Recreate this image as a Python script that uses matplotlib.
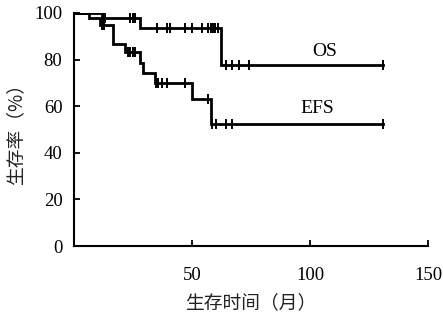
import numpy as np
import matplotlib
matplotlib.use("Agg")
import matplotlib.pyplot as plt

# Kaplan-Meier steps (months, %)
os_time = [0, 12, 28, 62.5]
os_surv = [100, 97.6, 93.4, 77.7]
os_cens = [12.5, 13.2, 24, 25, 26, 35.1, 39.3, 40.7, 47.1, 49.9, 54.1,
           57, 58, 59, 60, 61, 64.6, 66.8, 70, 74.2, 131]

efs_time = [0, 6.5, 11, 16.8, 21.7, 28, 29.5, 34.4, 50, 58]
efs_surv = [100, 97.9, 94.9, 86.8, 83.4, 78.4, 74.1, 69.8, 63, 52.4]
efs_cens = [12, 13, 23, 24, 25, 26, 34.8, 35.5, 37.2, 39.3, 47, 56.9,
            58.5, 60.4, 64.6, 66.8, 131]

end_time = 131

xticks = [50, 100, 150]
yticks = [0, 20, 40, 60, 80, 100]

serif = ['Liberation Serif', 'DejaVu Serif']
cjk = ['Noto Sans CJK SC', 'DejaVu Sans']


def level(times, surv, t):
    i = np.searchsorted(times, t, side='right') - 1
    return surv[i]


fig = plt.figure(figsize=(4.43, 3.22), dpi=100)
ax = fig.add_axes([0.166, 0.236, 0.801, 0.724])

for times, surv, cens in [(os_time, os_surv, os_cens), (efs_time, efs_surv, efs_cens)]:
    ax.step(times + [end_time], surv + [surv[-1]], where='post',
            color='black', lw=2.0, solid_joinstyle='miter')
    cy = [level(times, surv, t) for t in cens]
    ax.plot(cens, cy, ls='none', marker='|', ms=7, mew=1.4, color='black')

ax.text(106, 83.5, 'OS', fontsize=14, family=serif, ha='center', va='center')
ax.text(103, 59, 'EFS', fontsize=14, family=serif, ha='center', va='center')

ax.set_xlim(0, 150)
ax.set_ylim(0, 100)
ax.set_xticks(xticks)
ax.set_yticks(yticks)
for lab in ax.get_xticklabels() + ax.get_yticklabels():
    lab.set_family(serif)
    lab.set_fontsize(13.5)

ax.tick_params(axis='x', direction='in', length=4, width=1.3, pad=15)
ax.tick_params(axis='y', direction='in', length=4, width=1.3, pad=8)
ax.spines['top'].set_visible(False)
ax.spines['right'].set_visible(False)
ax.spines['left'].set_linewidth(1.5)
ax.spines['bottom'].set_linewidth(1.5)

ax.set_xlabel('生存时间（月）', family=cjk, fontsize=13.5, color='#222222', labelpad=6)
ax.set_ylabel('生存率（%）', family=cjk, fontsize=13.5, color='#222222', labelpad=6)

fig.savefig('out.png', dpi=100)
